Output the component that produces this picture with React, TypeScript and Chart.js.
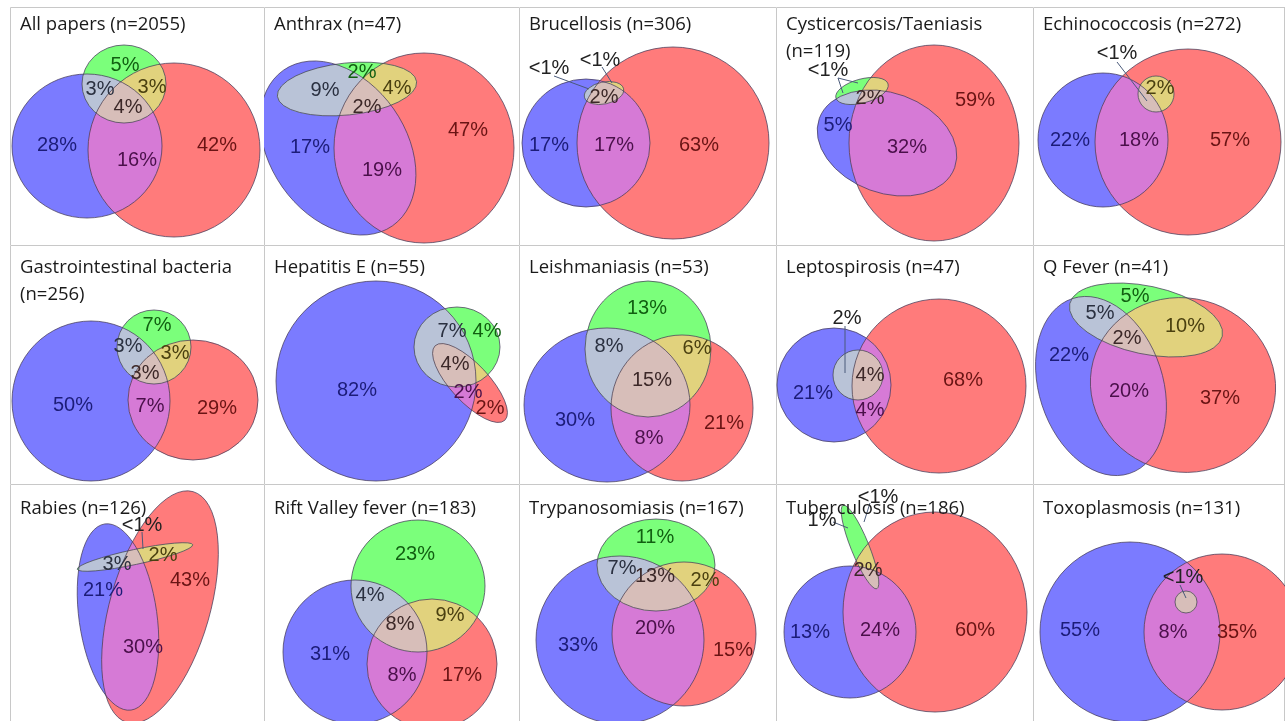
import React, { useEffect, useRef } from "react";
import { Chart, registerables } from "chart.js";
Chart.register(...registerables);

type Ell = [number, number, number, number, number]; // cx, cy, rx, ry, rotation(deg)
type Lbl = [string, number, number, string]; // text, x, y, region
type Lead = [number, number, number, number];

// ---- layout of the grid (figure units) ----
const COL_EDGES = [10, 264, 519, 776, 1033, 1285];
const ROW_EDGES = [7, 245, 484, 721];
const TITLE_BASELINES = [30, 273, 514];

// ---- categories ----
const DISEASES = [
  "All papers", "Anthrax", "Brucellosis", "Cysticercosis/Taeniasis", "Echinococcosis",
  "Gastrointestinal bacteria", "Hepatitis E", "Leishmaniasis", "Leptospirosis", "Q Fever",
  "Rabies", "Rift Valley fever", "Trypanosomiasis", "Tuberculosis", "Toxoplasmosis",
];
const PAPER_COUNTS = [2055, 47, 306, 119, 272, 256, 55, 53, 47, 41, 126, 183, 167, 186, 131];
const TITLE_WRAPS = [false, false, false, true, false, true, false, false, false, false, false, false, false, false, false];

// ---- sets (blue, red, green) per panel ----
const BLUE_SETS: Ell[] = [
  [87, 146, 75, 72, 0],
  [338, 148, 95, 68, 55],
  [586, 143, 64, 64, 0],
  [887, 143, 72, 50, 20],
  [1103, 140, 65, 67, 0],
  [91, 401, 79, 80, 0],
  [376, 381, 100, 100, 0],
  [607, 405, 83, 77, 0],
  [834, 385, 57, 57, 0],
  [1101, 386, 92, 62, 72],
  [118, 617, 94, 39, 82],
  [355, 652, 72, 72, 0],
  [620, 640, 84, 84, 0],
  [850, 632, 66, 66, 0],
  [1130, 632, 90, 90, 0],
];
const RED_SETS: Ell[] = [
  [174, 150, 86, 87, 0],
  [424, 148, 90, 95, 0],
  [673, 143, 96, 96, 0],
  [934, 143, 85, 98, 0],
  [1188, 142, 93, 93, 0],
  [193, 400, 65, 60, 0],
  [470, 383, 51, 19, 47],
  [682, 408, 71, 73, 0],
  [939, 386, 87, 87, 0],
  [1183, 385, 93, 87, 15],
  [160, 607, 120, 50, 106],
  [432, 664, 65, 65, 0],
  [684, 634, 72, 72, 0],
  [935, 612, 92, 100, 0],
  [1222, 632, 78, 78, 0],
];
const GREEN_SETS: Ell[] = [
  [124, 84, 42, 39, 0],
  [347, 89, 70, 26, -6],
  [604, 93, 20, 11, -12],
  [862, 91, 27, 12, -15],
  [1156, 94, 18, 18, 0],
  [154, 347, 37, 37, 0],
  [457, 347, 43, 40, 0],
  [648, 349, 63, 68, 0],
  [858, 375, 25, 25, 0],
  [1146, 320, 78, 34, 12],
  [135, 557, 59, 7.5, -12],
  [418, 586, 67, 66, 0],
  [656, 565, 59, 46, 0],
  [860, 547, 45, 9, 68],
  [1186, 602, 11, 11, 0],
];

// ---- region percentages per panel ----
const REGION_LABELS: Lbl[][] = [
  [["5%", 125, 65, "G"], ["3%", 100, 89, "BG"], ["3%", 152, 87, "GR"], ["4%", 128, 107, "BGR"], ["28%", 57, 145, "B"], ["16%", 137, 160, "BR"], ["42%", 217, 145, "R"]],
  [["2%", 362, 72, "G"], ["9%", 325, 90, "BG"], ["4%", 397, 88, "GR"], ["2%", 367, 107, "BGR"], ["17%", 310, 147, "B"], ["19%", 382, 170, "BR"], ["47%", 468, 130, "R"]],
  [["<1%", 549, 68, "N"], ["<1%", 600, 60, "N"], ["2%", 604, 97, "BGR"], ["17%", 549, 145, "B"], ["17%", 614, 145, "BR"], ["63%", 699, 145, "R"]],
  [["<1%", 828, 70, "N"], ["2%", 870, 98, "BGR"], ["5%", 838, 125, "B"], ["32%", 907, 147, "BR"], ["59%", 975, 100, "R"]],
  [["<1%", 1117, 53, "N"], ["2%", 1160, 88, "GR"], ["22%", 1070, 140, "B"], ["18%", 1139, 140, "BR"], ["57%", 1230, 140, "R"]],
  [["7%", 157, 325, "G"], ["3%", 128, 346, "BG"], ["3%", 175, 353, "GR"], ["3%", 145, 373, "BGR"], ["50%", 73, 405, "B"], ["7%", 150, 406, "BR"], ["29%", 217, 408, "R"]],
  [["7%", 452, 331, "BG"], ["4%", 487, 331, "G"], ["4%", 455, 364, "BGR"], ["2%", 468, 392, "BR"], ["2%", 490, 408, "R"], ["82%", 357, 390, "B"]],
  [["13%", 647, 308, "G"], ["8%", 609, 346, "BG"], ["6%", 697, 348, "GR"], ["15%", 652, 380, "BGR"], ["30%", 575, 420, "B"], ["8%", 649, 438, "BR"], ["21%", 724, 423, "R"]],
  [["2%", 847, 318, "N"], ["4%", 870, 375, "BGR"], ["21%", 813, 393, "B"], ["4%", 870, 410, "BR"], ["68%", 963, 380, "R"]],
  [["5%", 1135, 296, "G"], ["5%", 1100, 313, "BG"], ["10%", 1185, 326, "GR"], ["2%", 1127, 338, "BGR"], ["22%", 1069, 355, "B"], ["20%", 1129, 391, "BR"], ["37%", 1220, 398, "R"]],
  [["<1%", 142, 525, "N"], ["2%", 163, 555, "GR"], ["3%", 117, 564, "BG"], ["21%", 103, 590, "B"], ["43%", 190, 580, "R"], ["30%", 143, 647, "BR"]],
  [["23%", 415, 554, "G"], ["4%", 370, 595, "BG"], ["9%", 450, 615, "GR"], ["8%", 400, 624, "BGR"], ["31%", 330, 654, "B"], ["8%", 402, 675, "BR"], ["17%", 462, 675, "R"]],
  [["11%", 655, 537, "G"], ["7%", 622, 568, "BG"], ["2%", 705, 580, "GR"], ["13%", 655, 576, "BGR"], ["33%", 578, 645, "B"], ["20%", 655, 628, "BR"], ["15%", 733, 650, "R"]],
  [["1%", 822, 520, "N"], ["<1%", 878, 497, "N"], ["2%", 868, 570, "BGR"], ["13%", 810, 632, "B"], ["24%", 880, 630, "BR"], ["60%", 975, 630, "R"]],
  [["<1%", 1183, 577, "N"], ["55%", 1080, 630, "B"], ["8%", 1173, 632, "BR"], ["35%", 1237, 632, "R"]],
];

const LEADER_LINES: Lead[][] = [
  [], [],
  [[554, 76, 589, 89], [602, 67, 612, 83]],
  [[838, 78, 843, 93], [838, 78, 858, 83]],
  [[1117, 62, 1147, 101]],
  [], [], [],
  [[845, 326, 845, 373]],
  [],
  [[142, 532, 143, 549]],
  [], [],
  [[833, 522, 848, 528], [870, 503, 864, 522]],
  [[1180, 585, 1186, 598]],
];

// ---- styles ----
const FILL: Record<string, string> = {
  B: "#7b7bff", R: "#ff7b7b", G: "#7bff7b",
  BR: "#d67ad6", BG: "#b9c3d7", GR: "#e1d27d", BGR: "#d7beb9",
};
const TEXT: Record<string, string> = {
  B: "#1c1c78", R: "#6a1414", G: "#115f11", BR: "#4a104a",
  BG: "#2a3040", GR: "#4a4010", BGR: "#3c2828", N: "#222222",
};

const eulerPlugin = {
  id: "euler",
  beforeDatasetsDraw(chart: any) {
    const { ctx, width, height } = chart;
    const o = chart.options.plugins.euler;
    ctx.save();
    ctx.strokeStyle = "#c8c8c8";
    ctx.lineWidth = 1;
    ctx.beginPath();
    ctx.moveTo(0.5, height); ctx.lineTo(0.5, 0.5); ctx.lineTo(width, 0.5);
    if (o.lastCol) { ctx.moveTo(width - 0.5, 0); ctx.lineTo(width - 0.5, height); }
    ctx.stroke();
    ctx.restore();
  },
  afterDatasetsDraw(chart: any) {
    const { ctx } = chart;
    const xs = chart.scales.x, ys = chart.scales.y;
    const o = chart.options.plugins.euler;
    const px = (v: number) => xs.getPixelForValue(v);
    const py = (v: number) => ys.getPixelForValue(v);
    const kx = Math.abs(px(1) - px(0));
    const ky = Math.abs(py(1) - py(0));
    const sets = chart.data.datasets.map((d: any) => ({ e: d.ellipse as Ell, key: d.setKey as string }));
    const path = (e: Ell) => {
      ctx.beginPath();
      ctx.ellipse(px(e[0]), py(e[1]), e[2] * kx, e[3] * ky, (e[4] * Math.PI) / 180, 0, Math.PI * 2);
    };
    ctx.save();
    sets.forEach((s: any) => { path(s.e); ctx.fillStyle = FILL[s.key]; ctx.fill(); });
    const pairKey = (a: string, b: string) => ["BR", "BG", "GR"].find((k) => k.includes(a) && k.includes(b)) as string;
    for (let i = 0; i < sets.length; i++) {
      for (let j = i + 1; j < sets.length; j++) {
        ctx.save();
        path(sets[i].e); ctx.clip();
        path(sets[j].e); ctx.fillStyle = FILL[pairKey(sets[i].key, sets[j].key)]; ctx.fill();
        ctx.restore();
      }
    }
    ctx.save();
    path(sets[0].e); ctx.clip();
    path(sets[1].e); ctx.clip();
    path(sets[2].e); ctx.fillStyle = FILL.BGR; ctx.fill();
    ctx.restore();
    ctx.strokeStyle = "rgba(70,60,90,0.75)";
    ctx.lineWidth = 1;
    sets.forEach((s: any) => { path(s.e); ctx.stroke(); });

    // leader lines
    ctx.strokeStyle = "#4a5a7a";
    (o.leaders as Lead[]).forEach((l) => {
      ctx.beginPath(); ctx.moveTo(px(l[0]), py(l[1])); ctx.lineTo(px(l[2]), py(l[3])); ctx.stroke();
    });

    // region labels
    ctx.font = '20px "Liberation Sans", Arial, sans-serif';
    ctx.textAlign = "center";
    ctx.textBaseline = "middle";
    (o.labels as Lbl[]).forEach((l) => {
      ctx.fillStyle = TEXT[l[3]];
      ctx.fillText(l[0], px(l[1]), py(l[2]));
    });

    // title
    ctx.font = '18.5px "Open Sans", sans-serif';
    ctx.textAlign = "left";
    ctx.textBaseline = "alphabetic";
    ctx.fillStyle = "#1a1a1a";
    (o.title as string[]).forEach((t, k) => {
      ctx.fillText(t, px(o.titleX), py(o.titleY + k * 27));
    });
    ctx.restore();
  },
};

function Panel({ idx }: { idx: number }) {
  const ref = useRef<HTMLCanvasElement>(null);
  const col = idx % 5;
  const row = Math.floor(idx / 5);
  const x0 = COL_EDGES[col], x1 = COL_EDGES[col + 1];
  const y0 = ROW_EDGES[row], y1 = ROW_EDGES[row + 1];
  const w = x1 - x0, h = y1 - y0;

  useEffect(() => {
    if (!ref.current) return;
    const title = TITLE_WRAPS[idx]
      ? [DISEASES[idx], `(n=${PAPER_COUNTS[idx]})`]
      : [`${DISEASES[idx]} (n=${PAPER_COUNTS[idx]})`];
    const mk = (e: Ell, key: string, label: string) => ({
      label, setKey: key, ellipse: e,
      data: [{ x: e[0], y: e[1] }],
      pointRadius: 0, pointHoverRadius: 0, showLine: false,
    });
    const chart = new Chart(ref.current, {
      type: "scatter",
      data: {
        datasets: [
          mk(BLUE_SETS[idx], "B", "Blue"),
          mk(RED_SETS[idx], "R", "Red"),
          mk(GREEN_SETS[idx], "G", "Green"),
        ] as any,
      },
      options: {
        animation: false,
        responsive: false,
        maintainAspectRatio: false,
        events: [],
        layout: { padding: 0 },
        scales: {
          x: { type: "linear", min: x0, max: x1, display: false },
          y: { type: "linear", min: y0, max: y1, reverse: true, display: false },
        },
        plugins: {
          legend: { display: false },
          tooltip: { enabled: false },
          euler: {
            labels: REGION_LABELS[idx],
            leaders: LEADER_LINES[idx],
            title,
            titleX: x0 + 10,
            titleY: TITLE_BASELINES[row],
            lastCol: col === 4,
          },
        } as any,
      },
      plugins: [eulerPlugin as any],
    });
    return () => chart.destroy();
  }, [idx]);

  return (
    <div style={{ position: "absolute", left: x0, top: y0, width: w, height: h }}>
      <canvas ref={ref} width={w} height={h} style={{ display: "block", width: w, height: h }} />
    </div>
  );
}

export default function App() {
  return (
    <div style={{ position: "relative", width: 1288, height: 721, background: "#fff", overflow: "hidden" }}>
      <style>{"body{margin:0;background:#fff;}"}</style>
      {DISEASES.map((_, i) => (
        <Panel key={i} idx={i} />
      ))}
    </div>
  );
}
